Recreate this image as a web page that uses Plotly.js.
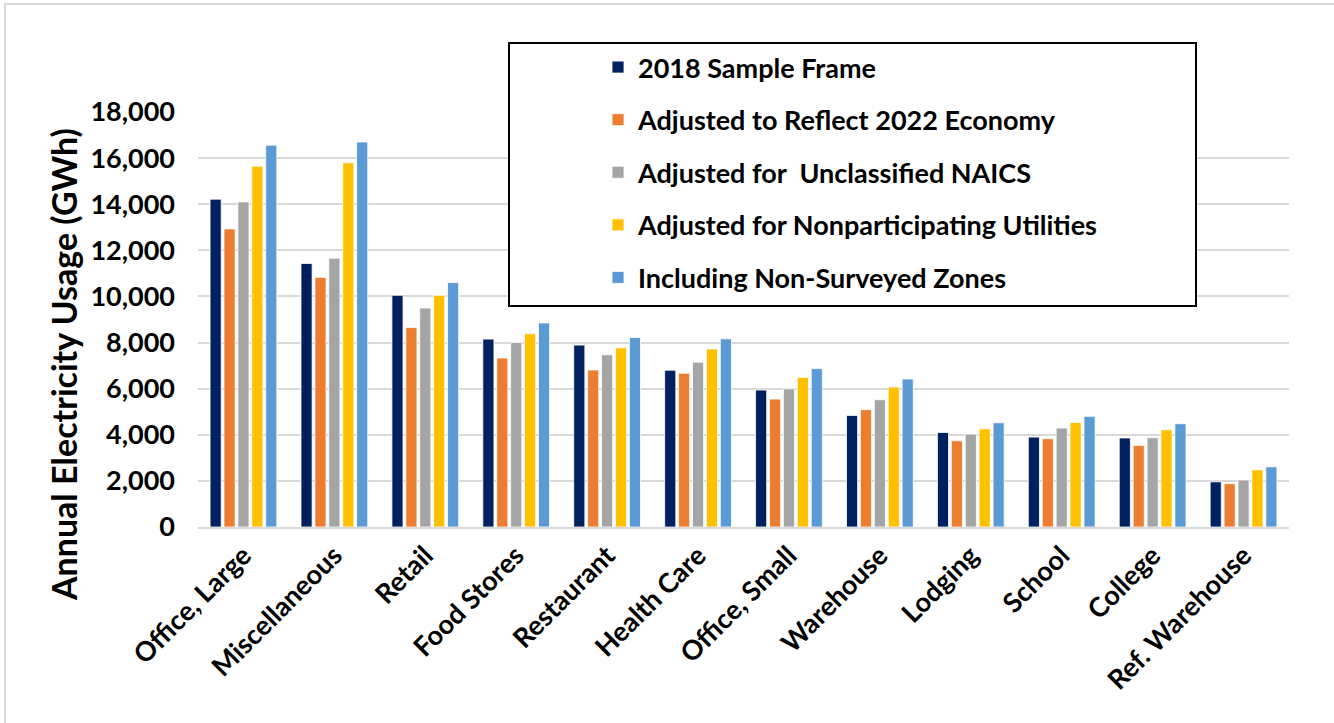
<!DOCTYPE html>
<html>
<head>
<meta charset="utf-8">
<script src="https://cdn.plot.ly/plotly-3.0.1.min.js"></script>
<style>
  html, body { margin: 0; padding: 0; background: #fff; }
  #frame { position: absolute; left: 4px; top: 3px; width: 1330px; height: 720px;
           border-left: 2px solid #d9d9d9; border-top: 2px solid #d9d9d9; box-sizing: border-box; }
  #chart { position: absolute; left: 0; top: 0; width: 1334px; height: 723px; }
</style>
</head>
<body>
<div id="frame"></div>
<div id="chart"></div>
<script>
const categories = ["Office, Large", "Miscellaneous", "Retail", "Food Stores", "Restaurant",
  "Health Care", "Office, Small", "Warehouse", "Lodging", "School", "College", "Ref. Warehouse"];

const seriesNames = ["2018 Sample Frame", "Adjusted to Reflect 2022 Economy",
  "Adjusted for  Unclassified NAICS", "Adjusted for Nonparticipating Utilities",
  "Including Non-Surveyed Zones"];

const sampleFrame2018 = [14220, 11430, 10050, 8150, 7890, 6800, 5940, 4840, 4100, 3900, 3860, 1960];
const adjusted2022Economy = [12930, 10830, 8650, 7330, 6810, 6670, 5550, 5090, 3740, 3830, 3540, 1880];
const adjustedUnclassifiedNAICS = [14100, 11660, 9500, 8000, 7470, 7150, 5990, 5520, 4030, 4290, 3870, 2040];
const adjustedNonparticipating = [15650, 15800, 10050, 8380, 7770, 7720, 6490, 6070, 4260, 4530, 4220, 2480];
const includingNonSurveyed = [16560, 16700, 10600, 8850, 8220, 8160, 6870, 6420, 4520, 4800, 4480, 2610];

const yTickVals = [0, 2000, 4000, 6000, 8000, 10000, 12000, 14000, 16000, 18000];
const yTickText = ["0", "2,000", "4,000", "6,000", "8,000", "10,000", "12,000", "14,000", "16,000", "18,000"];

const yTitle = "Annual Electricity Usage (GWh)";

const colors = ["#002060", "#ED7D31", "#A5A5A5", "#FFC000", "#5B9BD5"];
const allValues = [sampleFrame2018, adjusted2022Economy, adjustedUnclassifiedNAICS,
  adjustedNonparticipating, includingNonSurveyed];

const FONT = "Lato, 'Open Sans', sans-serif";

const traces = allValues.map((vals, i) => ({
  type: "bar",
  name: seriesNames[i],
  x: categories,
  y: vals,
  legendgroup: "g" + i,
  marker: { color: colors[i], line: { color: "#ffffff", width: 0.8 } },
  hoverinfo: "x+y+name"
}));

const layout = {
  width: 1334,
  height: 723,
  paper_bgcolor: "rgba(0,0,0,0)",
  plot_bgcolor: "rgba(0,0,0,0)",
  margin: { l: 198, r: 45, t: 112, b: 196 },
  barmode: "group",
  bargap: 0.235,
  bargroupgap: 0.2,
  font: { family: FONT, color: "#000" },
  xaxis: {
    type: "category",
    tickangle: -45,
    tickfont: { family: FONT, size: 27, weight: 700, color: "#000" },
    showline: true,
    linecolor: "#d9d9d9",
    linewidth: 2,
    ticks: "",
    showgrid: false,
    automargin: false
  },
  yaxis: {
    range: [0, 18000],
    tickvals: yTickVals,
    ticktext: yTickText,
    tickfont: { family: FONT, size: 27, weight: 700, color: "#000" },
    showgrid: true,
    gridcolor: "#d9d9d9",
    gridwidth: 2,
    zeroline: false,
    showline: false,
    ticks: "",
    ticklabelstandoff: 22,
    automargin: false
  },
  annotations: [{
    text: yTitle,
    xref: "paper", yref: "paper",
    x: (63 - 198) / 1091,
    y: 1 - (365 - 112) / 415,
    xanchor: "center", yanchor: "middle",
    textangle: -90,
    showarrow: false,
    font: { family: FONT, size: 34, weight: 700, color: "#000" }
  }],
  showlegend: true,
  legend: {
    x: (598 - 198) / 1091,
    y: 1 + (112 - 43) / 415,
    xanchor: "left",
    yanchor: "top",
    bgcolor: "rgba(0,0,0,0)",
    borderwidth: 0,
    traceorder: "grouped",
    tracegroupgap: 14.5,
    font: { family: FONT, size: 27, weight: 700, color: "#000" }
  },
  shapes: [{
    type: "rect",
    xref: "paper", yref: "paper",
    x0: (509 - 198) / 1091, x1: (1196 - 198) / 1091,
    y0: 1 - (306 - 112) / 415, y1: 1 + (112 - 43) / 415,
    line: { color: "#000", width: 2 },
    fillcolor: "#ffffff",
    layer: "above"
  }]
};

Plotly.newPlot("chart", traces, layout, { displayModeBar: false, staticPlot: true });
</script>
</body>
</html>
